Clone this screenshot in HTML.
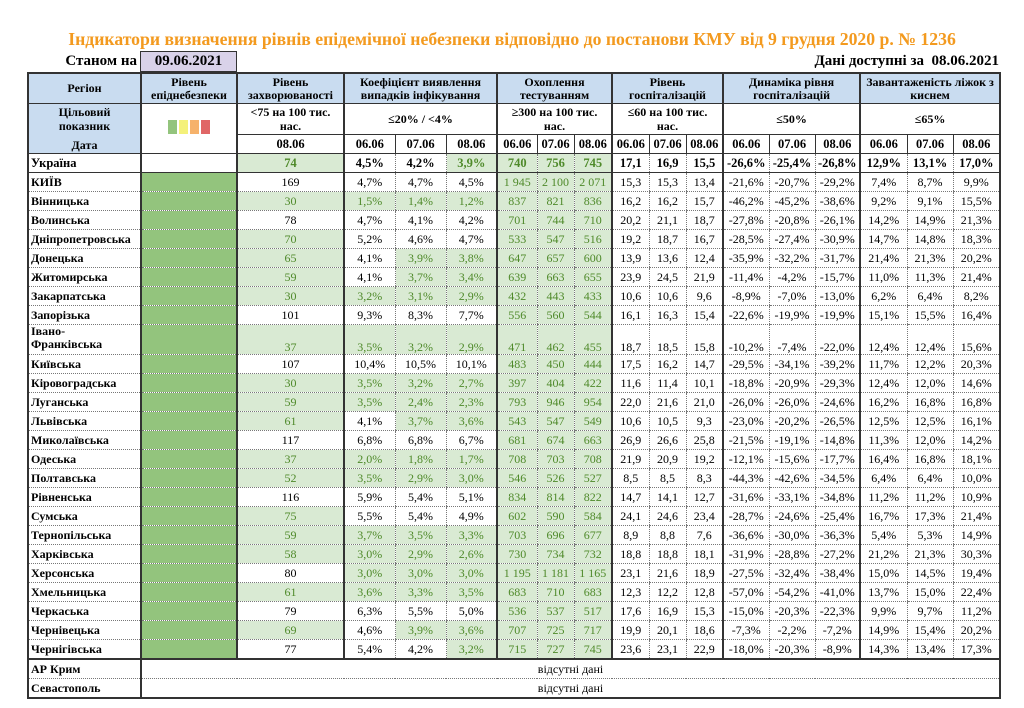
<!DOCTYPE html>
<html><head><meta charset="utf-8">
<style>
body{margin:0;width:1024px;height:708px;background:#fff;font-family:"Liberation Serif",serif;position:relative;overflow:hidden}
.title{position:absolute;left:0;width:1024px;top:29px;text-align:center;color:#f39a1f;font-weight:bold;font-size:17.7px}
.stan{position:absolute;left:30px;width:107px;top:53px;text-align:right;font-weight:bold;font-size:15px}
.date{position:absolute;left:140px;top:51px;width:95px;height:19px;background:#d9d2e9;border:1px solid #333;text-align:center;font-weight:bold;font-size:15px;line-height:19px}
.avail{position:absolute;right:25px;top:53px;font-weight:bold;font-size:15px}
table{position:absolute;left:27px;top:72px;border-collapse:collapse;table-layout:fixed;width:972px;border:2px solid #333}
td{border-left:1px dotted #777;border-bottom:1px dotted #777;padding:0;text-align:center;font-size:12px;height:18px;line-height:18px;white-space:nowrap;overflow:hidden}
.L{border-left:2px solid #333}
.h td{background:#c9dcf0;font-weight:bold;height:29px;line-height:13px;font-size:12px;border-bottom:1px solid #333;border-left:2px solid #333;white-space:normal}
.t td{height:30px;line-height:14px;font-weight:bold;font-size:12px;border-left:2px solid #333;border-bottom:1px solid #333;white-space:normal}
.t td.w{padding:0 12px}
.d td{font-weight:bold;border-bottom:1px solid #333;border-left:1px solid #333;font-size:12.5px;height:18px;line-height:18px}
.d td.L{border-left:2px solid #333}
td.r{text-align:left;font-weight:bold;padding-left:2px;border-left:none}
td.lv{background:#93c47d}
.g{background:#d9ead3;color:#4f8a2a}
.u td{font-weight:bold;border-bottom:1px solid #333;font-size:12.5px}
.iv td{height:29px;vertical-align:bottom;line-height:14px}
.iv td.r{line-height:13px}
.sq{display:inline-block;width:9px;height:14px;margin:0 1px}
</style></head><body>
<div class="title">Індикатори визначення рівнів епідемічної небезпеки відповідно до постанови КМУ від 9 грудня 2020 р. № 1236</div>
<div class="stan">Станом на</div>
<div class="date">09.06.2021</div>
<div class="avail">Дані доступні за&nbsp; 08.06.2021</div>
<table>
<colgroup><col style="width:113px"><col style="width:96px"><col style="width:107px"><col style="width:51px"><col style="width:51px"><col style="width:51px"><col style="width:40px"><col style="width:37px"><col style="width:38px"><col style="width:37px"><col style="width:37px"><col style="width:37px"><col style="width:46px"><col style="width:46px"><col style="width:45px"><col style="width:47px"><col style="width:46px"><col style="width:47px"></colgroup>
<tr class="h"><td>Регіон</td><td>Рівень епіднебезпеки</td><td>Рівень захворюваності</td><td colspan="3">Коефіцієнт виявлення випадків інфікування</td><td colspan="3">Охоплення тестуванням</td><td colspan="3">Рівень госпіталізацій</td><td colspan="3">Динаміка рівня госпіталізацій</td><td colspan="3">Завантаженість ліжок з киснем</td></tr>
<tr class="t"><td rowspan="2" style="background:#c9dcf0;vertical-align:top;line-height:14px;border-bottom:1px solid #333;padding-top:1px">Цільовий<br>показник<div style="margin-top:5px">Дата</div></td><td rowspan="2" style="border-bottom:1px solid #333"><span class="sq" style="background:#93c47d"></span><span class="sq" style="background:#f4f17a"></span><span class="sq" style="background:#f6b26b"></span><span class="sq" style="background:#e06666"></span></td><td class="w">&lt;75 на 100 тис. нас.</td><td colspan="3">≤20% / &lt;4%</td><td colspan="3" class="w">≥300 на 100 тис. нас.</td><td colspan="3" class="w">≤60 на 100 тис. нас.</td><td colspan="3">≤50%</td><td colspan="3">≤65%</td></tr>
<tr class="d"><td class="L">08.06</td><td class="L">06.06</td><td>07.06</td><td>08.06</td><td class="L">06.06</td><td>07.06</td><td>08.06</td><td class="L">06.06</td><td>07.06</td><td>08.06</td><td class="L">06.06</td><td>07.06</td><td>08.06</td><td class="L">06.06</td><td>07.06</td><td>08.06</td></tr>
<tr class="u"><td class="r">Україна</td><td class="L"></td><td class="L g">74</td><td class="L">4,5%</td><td>4,2%</td><td class="g">3,9%</td><td class="L g">740</td><td class="g">756</td><td class="g">745</td><td class="L">17,1</td><td>16,9</td><td>15,5</td><td class="L">-26,6%</td><td>-25,4%</td><td>-26,8%</td><td class="L">12,9%</td><td>13,1%</td><td>17,0%</td></tr>
<tr><td class="r">КИЇВ</td><td class="L lv"></td><td class="L">169</td><td class="L">4,7%</td><td>4,7%</td><td>4,5%</td><td class="L g">1 945</td><td class="g">2 100</td><td class="g">2 071</td><td class="L">15,3</td><td>15,3</td><td>13,4</td><td class="L">-21,6%</td><td>-20,7%</td><td>-29,2%</td><td class="L">7,4%</td><td>8,7%</td><td>9,9%</td></tr>
<tr><td class="r">Вінницька</td><td class="L lv"></td><td class="L g">30</td><td class="L g">1,5%</td><td class="g">1,4%</td><td class="g">1,2%</td><td class="L g">837</td><td class="g">821</td><td class="g">836</td><td class="L">16,2</td><td>16,2</td><td>15,7</td><td class="L">-46,2%</td><td>-45,2%</td><td>-38,6%</td><td class="L">9,2%</td><td>9,1%</td><td>15,5%</td></tr>
<tr><td class="r">Волинська</td><td class="L lv"></td><td class="L">78</td><td class="L">4,7%</td><td>4,1%</td><td>4,2%</td><td class="L g">701</td><td class="g">744</td><td class="g">710</td><td class="L">20,2</td><td>21,1</td><td>18,7</td><td class="L">-27,8%</td><td>-20,8%</td><td>-26,1%</td><td class="L">14,2%</td><td>14,9%</td><td>21,3%</td></tr>
<tr><td class="r">Дніпропетровська</td><td class="L lv"></td><td class="L g">70</td><td class="L">5,2%</td><td>4,6%</td><td>4,7%</td><td class="L g">533</td><td class="g">547</td><td class="g">516</td><td class="L">19,2</td><td>18,7</td><td>16,7</td><td class="L">-28,5%</td><td>-27,4%</td><td>-30,9%</td><td class="L">14,7%</td><td>14,8%</td><td>18,3%</td></tr>
<tr><td class="r">Донецька</td><td class="L lv"></td><td class="L g">65</td><td class="L">4,1%</td><td class="g">3,9%</td><td class="g">3,8%</td><td class="L g">647</td><td class="g">657</td><td class="g">600</td><td class="L">13,9</td><td>13,6</td><td>12,4</td><td class="L">-35,9%</td><td>-32,2%</td><td>-31,7%</td><td class="L">21,4%</td><td>21,3%</td><td>20,2%</td></tr>
<tr><td class="r">Житомирська</td><td class="L lv"></td><td class="L g">59</td><td class="L">4,1%</td><td class="g">3,7%</td><td class="g">3,4%</td><td class="L g">639</td><td class="g">663</td><td class="g">655</td><td class="L">23,9</td><td>24,5</td><td>21,9</td><td class="L">-11,4%</td><td>-4,2%</td><td>-15,7%</td><td class="L">11,0%</td><td>11,3%</td><td>21,4%</td></tr>
<tr><td class="r">Закарпатська</td><td class="L lv"></td><td class="L g">30</td><td class="L g">3,2%</td><td class="g">3,1%</td><td class="g">2,9%</td><td class="L g">432</td><td class="g">443</td><td class="g">433</td><td class="L">10,6</td><td>10,6</td><td>9,6</td><td class="L">-8,9%</td><td>-7,0%</td><td>-13,0%</td><td class="L">6,2%</td><td>6,4%</td><td>8,2%</td></tr>
<tr><td class="r">Запорізька</td><td class="L lv"></td><td class="L">101</td><td class="L">9,3%</td><td>8,3%</td><td>7,7%</td><td class="L g">556</td><td class="g">560</td><td class="g">544</td><td class="L">16,1</td><td>16,3</td><td>15,4</td><td class="L">-22,6%</td><td>-19,9%</td><td>-19,9%</td><td class="L">15,1%</td><td>15,5%</td><td>16,4%</td></tr>
<tr class="iv"><td class="r" style="vertical-align:top;white-space:normal">Івано-<br>Франківська</td><td class="L lv"></td><td class="L g">37</td><td class="L g">3,5%</td><td class="g">3,2%</td><td class="g">2,9%</td><td class="L g">471</td><td class="g">462</td><td class="g">455</td><td class="L">18,7</td><td>18,5</td><td>15,8</td><td class="L">-10,2%</td><td>-7,4%</td><td>-22,0%</td><td class="L">12,4%</td><td>12,4%</td><td>15,6%</td></tr>
<tr><td class="r">Київська</td><td class="L lv"></td><td class="L">107</td><td class="L">10,4%</td><td>10,5%</td><td>10,1%</td><td class="L g">483</td><td class="g">450</td><td class="g">444</td><td class="L">17,5</td><td>16,2</td><td>14,7</td><td class="L">-29,5%</td><td>-34,1%</td><td>-39,2%</td><td class="L">11,7%</td><td>12,2%</td><td>20,3%</td></tr>
<tr><td class="r">Кіровоградська</td><td class="L lv"></td><td class="L g">30</td><td class="L g">3,5%</td><td class="g">3,2%</td><td class="g">2,7%</td><td class="L g">397</td><td class="g">404</td><td class="g">422</td><td class="L">11,6</td><td>11,4</td><td>10,1</td><td class="L">-18,8%</td><td>-20,9%</td><td>-29,3%</td><td class="L">12,4%</td><td>12,0%</td><td>14,6%</td></tr>
<tr><td class="r">Луганська</td><td class="L lv"></td><td class="L g">59</td><td class="L g">3,5%</td><td class="g">2,4%</td><td class="g">2,3%</td><td class="L g">793</td><td class="g">946</td><td class="g">954</td><td class="L">22,0</td><td>21,6</td><td>21,0</td><td class="L">-26,0%</td><td>-26,0%</td><td>-24,6%</td><td class="L">16,2%</td><td>16,8%</td><td>16,8%</td></tr>
<tr><td class="r">Львівська</td><td class="L lv"></td><td class="L g">61</td><td class="L">4,1%</td><td class="g">3,7%</td><td class="g">3,6%</td><td class="L g">543</td><td class="g">547</td><td class="g">549</td><td class="L">10,6</td><td>10,5</td><td>9,3</td><td class="L">-23,0%</td><td>-20,2%</td><td>-26,5%</td><td class="L">12,5%</td><td>12,5%</td><td>16,1%</td></tr>
<tr><td class="r">Миколаївська</td><td class="L lv"></td><td class="L">117</td><td class="L">6,8%</td><td>6,8%</td><td>6,7%</td><td class="L g">681</td><td class="g">674</td><td class="g">663</td><td class="L">26,9</td><td>26,6</td><td>25,8</td><td class="L">-21,5%</td><td>-19,1%</td><td>-14,8%</td><td class="L">11,3%</td><td>12,0%</td><td>14,2%</td></tr>
<tr><td class="r">Одеська</td><td class="L lv"></td><td class="L g">37</td><td class="L g">2,0%</td><td class="g">1,8%</td><td class="g">1,7%</td><td class="L g">708</td><td class="g">703</td><td class="g">708</td><td class="L">21,9</td><td>20,9</td><td>19,2</td><td class="L">-12,1%</td><td>-15,6%</td><td>-17,7%</td><td class="L">16,4%</td><td>16,8%</td><td>18,1%</td></tr>
<tr><td class="r">Полтавська</td><td class="L lv"></td><td class="L g">52</td><td class="L g">3,5%</td><td class="g">2,9%</td><td class="g">3,0%</td><td class="L g">546</td><td class="g">526</td><td class="g">527</td><td class="L">8,5</td><td>8,5</td><td>8,3</td><td class="L">-44,3%</td><td>-42,6%</td><td>-34,5%</td><td class="L">6,4%</td><td>6,4%</td><td>10,0%</td></tr>
<tr><td class="r">Рівненська</td><td class="L lv"></td><td class="L">116</td><td class="L">5,9%</td><td>5,4%</td><td>5,1%</td><td class="L g">834</td><td class="g">814</td><td class="g">822</td><td class="L">14,7</td><td>14,1</td><td>12,7</td><td class="L">-31,6%</td><td>-33,1%</td><td>-34,8%</td><td class="L">11,2%</td><td>11,2%</td><td>10,9%</td></tr>
<tr><td class="r">Сумська</td><td class="L lv"></td><td class="L g">75</td><td class="L">5,5%</td><td>5,4%</td><td>4,9%</td><td class="L g">602</td><td class="g">590</td><td class="g">584</td><td class="L">24,1</td><td>24,6</td><td>23,4</td><td class="L">-28,7%</td><td>-24,6%</td><td>-25,4%</td><td class="L">16,7%</td><td>17,3%</td><td>21,4%</td></tr>
<tr><td class="r">Тернопільська</td><td class="L lv"></td><td class="L g">59</td><td class="L g">3,7%</td><td class="g">3,5%</td><td class="g">3,3%</td><td class="L g">703</td><td class="g">696</td><td class="g">677</td><td class="L">8,9</td><td>8,8</td><td>7,6</td><td class="L">-36,6%</td><td>-30,0%</td><td>-36,3%</td><td class="L">5,4%</td><td>5,3%</td><td>14,9%</td></tr>
<tr><td class="r">Харківська</td><td class="L lv"></td><td class="L g">58</td><td class="L g">3,0%</td><td class="g">2,9%</td><td class="g">2,6%</td><td class="L g">730</td><td class="g">734</td><td class="g">732</td><td class="L">18,8</td><td>18,8</td><td>18,1</td><td class="L">-31,9%</td><td>-28,8%</td><td>-27,2%</td><td class="L">21,2%</td><td>21,3%</td><td>30,3%</td></tr>
<tr><td class="r">Херсонська</td><td class="L lv"></td><td class="L">80</td><td class="L g">3,0%</td><td class="g">3,0%</td><td class="g">3,0%</td><td class="L g">1 195</td><td class="g">1 181</td><td class="g">1 165</td><td class="L">23,1</td><td>21,6</td><td>18,9</td><td class="L">-27,5%</td><td>-32,4%</td><td>-38,4%</td><td class="L">15,0%</td><td>14,5%</td><td>19,4%</td></tr>
<tr><td class="r">Хмельницька</td><td class="L lv"></td><td class="L g">61</td><td class="L g">3,6%</td><td class="g">3,3%</td><td class="g">3,5%</td><td class="L g">683</td><td class="g">710</td><td class="g">683</td><td class="L">12,3</td><td>12,2</td><td>12,8</td><td class="L">-57,0%</td><td>-54,2%</td><td>-41,0%</td><td class="L">13,7%</td><td>15,0%</td><td>22,4%</td></tr>
<tr><td class="r">Черкаська</td><td class="L lv"></td><td class="L">79</td><td class="L">6,3%</td><td>5,5%</td><td>5,0%</td><td class="L g">536</td><td class="g">537</td><td class="g">517</td><td class="L">17,6</td><td>16,9</td><td>15,3</td><td class="L">-15,0%</td><td>-20,3%</td><td>-22,3%</td><td class="L">9,9%</td><td>9,7%</td><td>11,2%</td></tr>
<tr><td class="r">Чернівецька</td><td class="L lv"></td><td class="L g">69</td><td class="L">4,6%</td><td class="g">3,9%</td><td class="g">3,6%</td><td class="L g">707</td><td class="g">725</td><td class="g">717</td><td class="L">19,9</td><td>20,1</td><td>18,6</td><td class="L">-7,3%</td><td>-2,2%</td><td>-7,2%</td><td class="L">14,9%</td><td>15,4%</td><td>20,2%</td></tr>
<tr style="border-bottom:2px solid #333"><td class="r">Чернігівська</td><td class="L lv"></td><td class="L">77</td><td class="L">5,4%</td><td>4,2%</td><td class="g">3,2%</td><td class="L g">715</td><td class="g">727</td><td class="g">745</td><td class="L">23,6</td><td>23,1</td><td>22,9</td><td class="L">-18,0%</td><td>-20,3%</td><td>-8,9%</td><td class="L">14,3%</td><td>13,4%</td><td>17,3%</td></tr>
<tr><td class="r">АР Крим</td><td class="L" colspan="17">відсутні дані</td></tr>
<tr><td class="r">Севастополь</td><td class="L" colspan="17">відсутні дані</td></tr>
</table>
</body></html>
